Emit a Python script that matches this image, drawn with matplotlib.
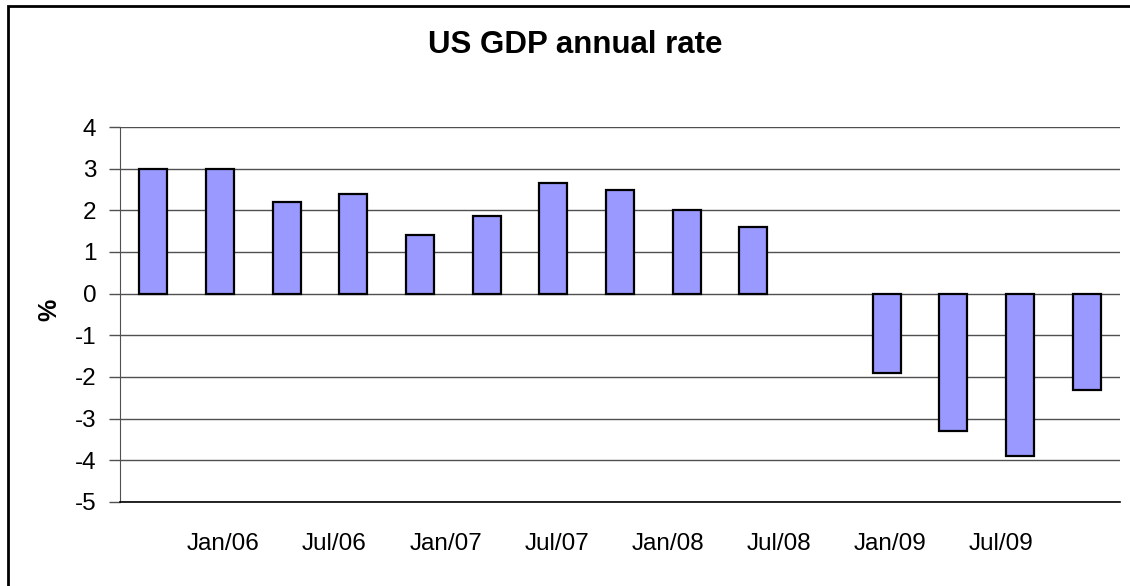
import matplotlib
matplotlib.use('Agg')
import matplotlib.pyplot as plt
import numpy as np
from matplotlib.patches import Rectangle

# quarterly US GDP, % change year on year (Q4/05 .. Q2/09, Q3/08 missing)
quarters = ['Q4/05', 'Q1/06', 'Q2/06', 'Q3/06', 'Q4/06', 'Q1/07', 'Q2/07', 'Q3/07',
            'Q4/07', 'Q1/08', 'Q2/08', 'Q3/08', 'Q4/08', 'Q1/09', 'Q2/09']
gdp = [3.0, 3.0, 2.2, 2.4, 1.4, 1.87, 2.66, 2.49, 2.01, 1.6, np.nan,
       -1.9, -3.3, -3.9, -2.31]
tick_labels = ['Jan/06', 'Jul/06', 'Jan/07', 'Jul/07', 'Jan/08', 'Jul/08',
               'Jan/09', 'Jul/09']

plt.rcParams['font.family'] = ['Liberation Sans', 'DejaVu Sans']
plt.rcParams['axes.unicode_minus'] = False

fig = plt.figure(figsize=(11.3, 5.86), dpi=100)
ax = fig.add_axes([120 / 1130, 1 - 502 / 586, 1000 / 1130, 375 / 586])

x = np.arange(len(quarters))
ax.bar(x, gdp, width=0.42, color='#9999ff', edgecolor='black', linewidth=1.6, zorder=3)

ax.set_xlim(-0.5, len(quarters) - 0.5)
ax.set_ylim(-5, 4)
ax.set_yticks(np.arange(-5, 5, 1))
ax.yaxis.grid(True, color='#505050', linewidth=1, zorder=0)

# date labels fall every five months on the quarterly scale
ax.set_xticks(np.linspace(1.05, 12.72, len(tick_labels)))
ax.set_xticklabels(tick_labels)
ax.tick_params(axis='x', length=0, pad=22, labelsize=17.5)
ax.tick_params(axis='y', length=8, width=1, color='#505050', pad=9, labelsize=17.5)

for s in ['top', 'right']:
  ax.spines[s].set_visible(False)
ax.spines['left'].set_color('#505050')
ax.spines['bottom'].set_color('black')
ax.spines['bottom'].set_linewidth(1.2)

ax.set_ylabel('%', fontsize=18, fontweight='bold')
ax.yaxis.set_label_coords(-0.059, 0.512)
fig.text(575 / 1130, 1 - 45 / 586, 'US GDP annual rate', ha='center', va='center',
         fontsize=22.5, fontweight='bold')

# chart outline (only the top and left edges are inside the picture)
fig.patches.append(Rectangle((8 / 1130, -0.1), 1.2, 1 - 6 / 586 + 0.1,
                             transform=fig.transFigure, fill=False,
                             edgecolor='black', linewidth=2))

plt.savefig('out.png', dpi=100)
